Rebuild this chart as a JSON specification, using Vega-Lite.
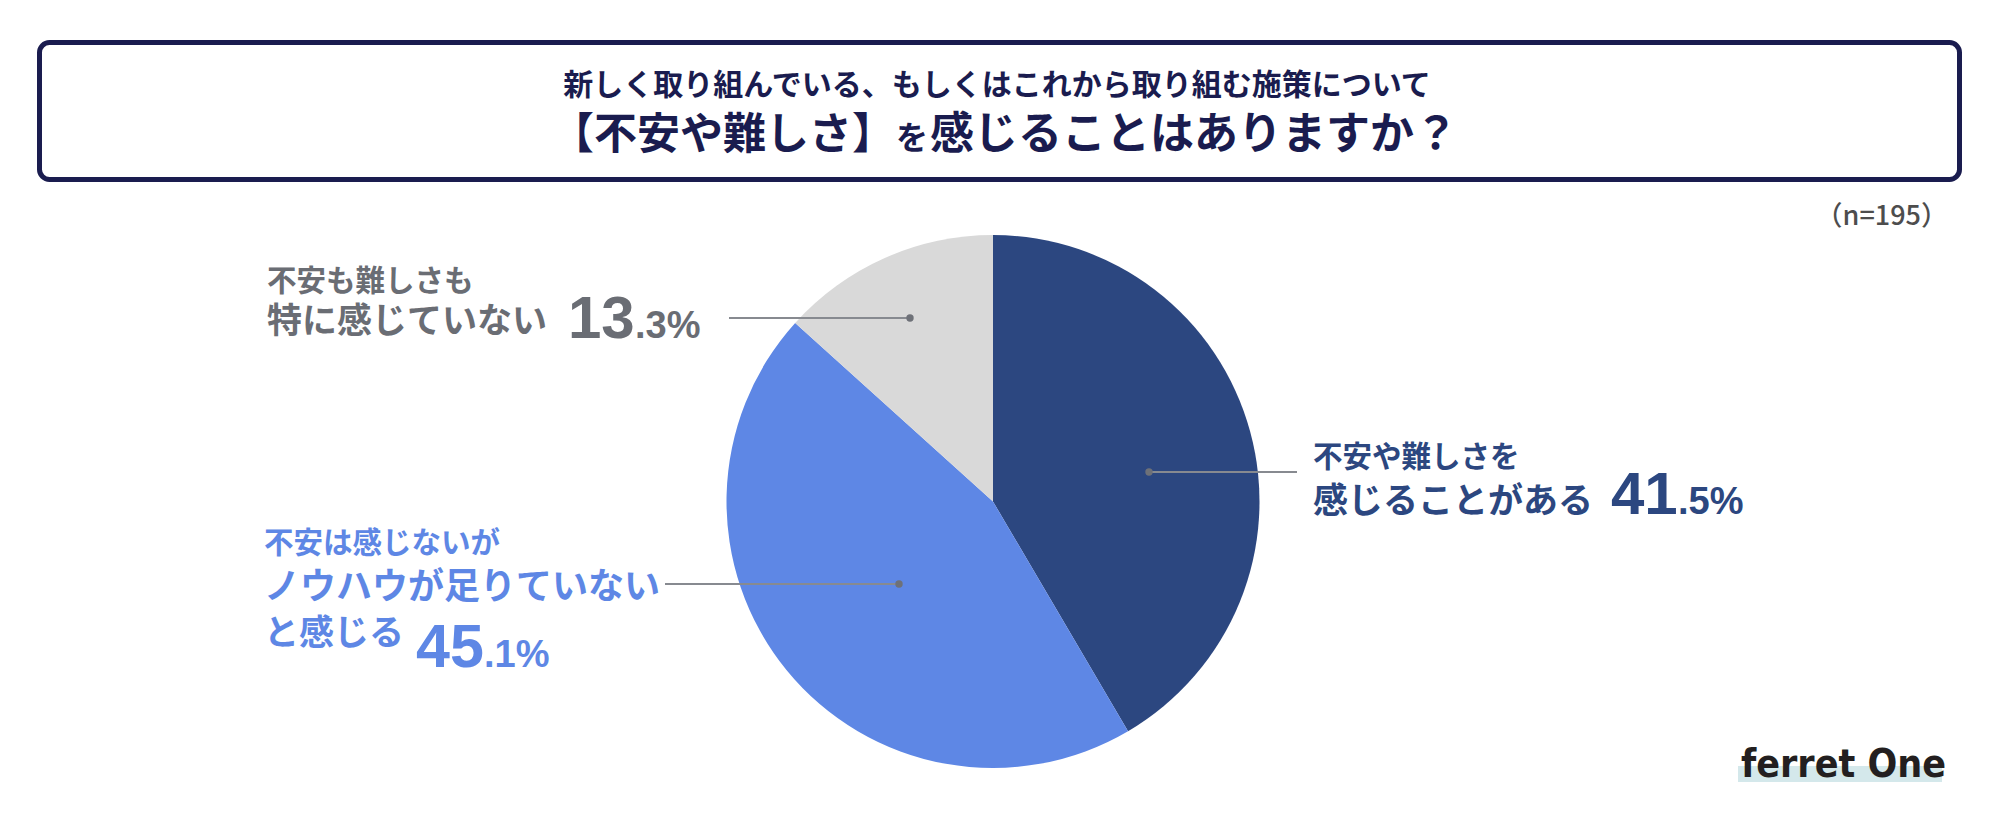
{
  "$schema": "https://vega.github.io/schema/vega-lite/v6.json",
  "width": 1999,
  "height": 825,
  "autosize": "none",
  "padding": 0,
  "background": "#ffffff",
  "config": {"view": {"stroke": null}},
  "data": {
    "values": [
      {"answer": "不安や難しさを感じることがある", "pct": 41.5, "ord": 1},
      {"answer": "不安は感じないがノウハウが足りていないと感じる", "pct": 45.1, "ord": 2},
      {"answer": "不安も難しさも特に感じていない", "pct": 13.3, "ord": 3}
    ]
  },
  "transform": [
    {"calculate": "floor(datum.pct)", "as": "whole"},
    {"calculate": "'.' + (round(datum.pct * 10) % 10) + '%'", "as": "frac"}
  ],
  "layer": [
    {
      "transform": [{"filter": "datum.ord == 1"}],
      "mark": {"type": "rect", "fill": "#ffffff", "stroke": "#1a1c4f", "strokeWidth": 5, "cornerRadius": 10},
      "encoding": {
        "x": {"datum": 39.5, "type": "quantitative", "scale": {"domain": [0, 1999], "nice": false, "zero": false}, "axis": null},
        "x2": {"datum": 1959.5},
        "y": {"datum": 42.5, "type": "quantitative", "scale": {"domain": [0, 825], "reverse": true, "nice": false, "zero": false}, "axis": null},
        "y2": {"datum": 179.5}
      }
    },
    {
      "transform": [{"filter": "datum.ord == 1"}],
      "mark": {"type": "text", "text": "新しく取り組んでいる、もしくはこれから取り組む施策について", "align": "center", "baseline": "middle", "font": "Noto Sans CJK JP", "fontWeight": "bold", "fontSize": 30, "color": "#1a1c4f"},
      "encoding": {"x": {"datum": 997}, "y": {"datum": 86}}
    },
    {
      "transform": [{"filter": "datum.ord == 1"}],
      "mark": {"type": "text", "text": "【不安や難しさ】", "align": "left", "baseline": "alphabetic", "font": "Noto Sans CJK JP", "fontWeight": "bold", "fontSize": 43, "color": "#1a1c4f"},
      "encoding": {"x": {"datum": 551}, "y": {"datum": 149}}
    },
    {
      "transform": [{"filter": "datum.ord == 1"}],
      "mark": {"type": "text", "text": "を", "align": "left", "baseline": "alphabetic", "font": "Noto Sans CJK JP", "fontWeight": "bold", "fontSize": 32, "color": "#1a1c4f"},
      "encoding": {"x": {"datum": 896}, "y": {"datum": 149}}
    },
    {
      "transform": [{"filter": "datum.ord == 1"}],
      "mark": {"type": "text", "text": "感じることはありますか？", "align": "left", "baseline": "alphabetic", "font": "Noto Sans CJK JP", "fontWeight": "bold", "fontSize": 44, "color": "#1a1c4f"},
      "encoding": {"x": {"datum": 930}, "y": {"datum": 149}}
    },
    {
      "transform": [{"filter": "datum.ord == 1"}],
      "mark": {"type": "text", "text": "（n=195）", "align": "right", "baseline": "middle", "font": "Noto Sans CJK JP", "fontWeight": 500, "fontSize": 27, "color": "#4d4d4d"},
      "encoding": {"x": {"datum": 1948}, "y": {"datum": 217}}
    },
    {
      "mark": {"type": "arc", "radius": 266.5, "stroke": null},
      "encoding": {
        "theta": {"field": "pct", "type": "quantitative", "stack": true},
        "order": {"field": "ord", "type": "quantitative"},
        "color": {
          "field": "answer",
          "type": "nominal",
          "scale": {
            "domain": ["不安や難しさを感じることがある", "不安は感じないがノウハウが足りていないと感じる", "不安も難しさも特に感じていない"],
            "range": ["#2c4780", "#5e87e5", "#d9d9d9"]
          },
          "legend": null
        },
        "x": {"datum": 993},
        "y": {"datum": 501.5}
      }
    },
    {
      "transform": [{"filter": "datum.ord == 3"}],
      "mark": {"type": "rule", "color": "#878a90", "strokeWidth": 2},
      "encoding": {"x": {"datum": 729}, "x2": {"datum": 910}, "y": {"datum": 318}}
    },
    {
      "transform": [{"filter": "datum.ord == 1"}],
      "mark": {"type": "rule", "color": "#878a90", "strokeWidth": 2},
      "encoding": {"x": {"datum": 1149}, "x2": {"datum": 1297}, "y": {"datum": 472}}
    },
    {
      "transform": [{"filter": "datum.ord == 2"}],
      "mark": {"type": "rule", "color": "#878a90", "strokeWidth": 2},
      "encoding": {"x": {"datum": 665}, "x2": {"datum": 899}, "y": {"datum": 584}}
    },
    {
      "transform": [{"filter": "datum.ord == 3"}],
      "mark": {"type": "circle", "color": "#6e7178", "opacity": 1, "size": 55},
      "encoding": {"x": {"datum": 910}, "y": {"datum": 318}}
    },
    {
      "transform": [{"filter": "datum.ord == 1"}],
      "mark": {"type": "circle", "color": "#6e7178", "opacity": 1, "size": 55},
      "encoding": {"x": {"datum": 1149}, "y": {"datum": 472}}
    },
    {
      "transform": [{"filter": "datum.ord == 2"}],
      "mark": {"type": "circle", "color": "#6e7178", "opacity": 1, "size": 55},
      "encoding": {"x": {"datum": 899}, "y": {"datum": 584}}
    },
    {
      "transform": [{"filter": "datum.ord == 3"}],
      "mark": {"type": "text", "text": "不安も難しさも", "align": "left", "baseline": "middle", "font": "Noto Sans CJK JP", "fontWeight": 600, "fontSize": 29.5, "color": "#6a6d74"},
      "encoding": {"x": {"datum": 267}, "y": {"datum": 282}}
    },
    {
      "transform": [{"filter": "datum.ord == 3"}],
      "mark": {"type": "text", "text": "特に感じていない", "align": "left", "baseline": "middle", "font": "Noto Sans CJK JP", "fontWeight": 600, "fontSize": 35, "color": "#6a6d74"},
      "encoding": {"x": {"datum": 267}, "y": {"datum": 322}}
    },
    {
      "transform": [{"filter": "datum.ord == 3"}],
      "mark": {"type": "text", "align": "left", "baseline": "alphabetic", "font": "Liberation Sans", "fontWeight": "bold", "fontSize": 60, "color": "#6a6d74"},
      "encoding": {"x": {"datum": 568}, "y": {"datum": 338}, "text": {"field": "whole", "type": "nominal"}}
    },
    {
      "transform": [{"filter": "datum.ord == 3"}],
      "mark": {"type": "text", "align": "left", "baseline": "alphabetic", "font": "Liberation Sans", "fontWeight": "bold", "fontSize": 38, "color": "#6a6d74"},
      "encoding": {"x": {"datum": 635}, "y": {"datum": 338}, "text": {"field": "frac", "type": "nominal"}}
    },
    {
      "transform": [{"filter": "datum.ord == 1"}],
      "mark": {"type": "text", "text": "不安や難しさを", "align": "left", "baseline": "middle", "font": "Noto Sans CJK JP", "fontWeight": 600, "fontSize": 29.5, "color": "#2c4780"},
      "encoding": {"x": {"datum": 1313}, "y": {"datum": 458}}
    },
    {
      "transform": [{"filter": "datum.ord == 1"}],
      "mark": {"type": "text", "text": "感じることがある", "align": "left", "baseline": "middle", "font": "Noto Sans CJK JP", "fontWeight": 600, "fontSize": 35, "color": "#2c4780"},
      "encoding": {"x": {"datum": 1313}, "y": {"datum": 502}}
    },
    {
      "transform": [{"filter": "datum.ord == 1"}],
      "mark": {"type": "text", "align": "left", "baseline": "alphabetic", "font": "Liberation Sans", "fontWeight": "bold", "fontSize": 60, "color": "#2c4780"},
      "encoding": {"x": {"datum": 1611}, "y": {"datum": 514}, "text": {"field": "whole", "type": "nominal"}}
    },
    {
      "transform": [{"filter": "datum.ord == 1"}],
      "mark": {"type": "text", "align": "left", "baseline": "alphabetic", "font": "Liberation Sans", "fontWeight": "bold", "fontSize": 38, "color": "#2c4780"},
      "encoding": {"x": {"datum": 1678}, "y": {"datum": 514}, "text": {"field": "frac", "type": "nominal"}}
    },
    {
      "transform": [{"filter": "datum.ord == 2"}],
      "mark": {"type": "text", "text": "不安は感じないが", "align": "left", "baseline": "middle", "font": "Noto Sans CJK JP", "fontWeight": 600, "fontSize": 29.5, "color": "#5e87e5"},
      "encoding": {"x": {"datum": 264}, "y": {"datum": 544}}
    },
    {
      "transform": [{"filter": "datum.ord == 2"}],
      "mark": {"type": "text", "text": "ノウハウが足りていない", "align": "left", "baseline": "middle", "font": "Noto Sans CJK JP", "fontWeight": 600, "fontSize": 36, "color": "#5e87e5"},
      "encoding": {"x": {"datum": 264}, "y": {"datum": 588}}
    },
    {
      "transform": [{"filter": "datum.ord == 2"}],
      "mark": {"type": "text", "text": "と感じる", "align": "left", "baseline": "middle", "font": "Noto Sans CJK JP", "fontWeight": 600, "fontSize": 35, "color": "#5e87e5"},
      "encoding": {"x": {"datum": 264}, "y": {"datum": 634}}
    },
    {
      "transform": [{"filter": "datum.ord == 2"}],
      "mark": {"type": "text", "align": "left", "baseline": "alphabetic", "font": "Liberation Sans", "fontWeight": "bold", "fontSize": 61, "color": "#5e87e5"},
      "encoding": {"x": {"datum": 416}, "y": {"datum": 667}, "text": {"field": "whole", "type": "nominal"}}
    },
    {
      "transform": [{"filter": "datum.ord == 2"}],
      "mark": {"type": "text", "align": "left", "baseline": "alphabetic", "font": "Liberation Sans", "fontWeight": "bold", "fontSize": 38, "color": "#5e87e5"},
      "encoding": {"x": {"datum": 484}, "y": {"datum": 667}, "text": {"field": "frac", "type": "nominal"}}
    },
    {
      "transform": [{"filter": "datum.ord == 1"}],
      "mark": {"type": "rect", "fill": "#d4e8eb"},
      "encoding": {"x": {"datum": 1738}, "x2": {"datum": 1942}, "y": {"datum": 766}, "y2": {"datum": 782}}
    },
    {
      "transform": [{"filter": "datum.ord == 1"}],
      "mark": {"type": "text", "text": "ferret One", "align": "left", "baseline": "alphabetic", "font": "DejaVu Sans Condensed, Liberation Sans", "fontWeight": "bold", "fontSize": 39, "color": "#231f20"},
      "encoding": {"x": {"datum": 1741}, "y": {"datum": 777}}
    }
  ]
}
